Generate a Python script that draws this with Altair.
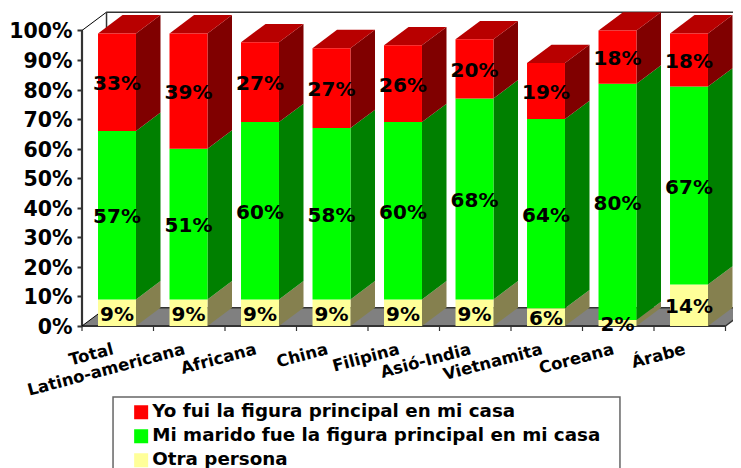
import altair as alt
import pandas as pd

categories = ["Total", "Latino-americana", "Africana", "China", "Filipina",
              "Asió-India", "Vietnamita", "Coreana", "Árabe"]
otra = [9, 9, 9, 9, 9, 9, 6, 2, 14]
marido = [57, 51, 60, 58, 60, 68, 64, 80, 67]
yo = [33, 39, 27, 27, 26, 20, 19, 18, 18]
series_names = ["Yo fui la figura principal en mi casa",
                "Mi marido fue la figura principal en mi casa",
                "Otra persona"]
front = {"otra": "#FFFF99", "marido": "#00FF00", "yo": "#FF0000"}
side = {"otra": "#85804F", "marido": "#008000", "yo": "#800000"}
top_color = "#B80000"
FONT = "DejaVu Sans"
INK = "#333333"

BAR_L, BAR_W = 0.224, 0.531
DX, DY = 0.343, 6.2
XMAX = 651 / 71.5
YMIN, YMAX = -48.05, 107.6
X = alt.Scale(domain=[0, XMAX], nice=False, zero=False)
Y = alt.Scale(domain=[YMIN, YMAX], nice=False, zero=False)

rows_front, rows_poly, rows_text = [], [], []
for i in range(len(categories)):
    l = i + BAR_L
    r = l + BAR_W
    base = 0
    for key, name, v in (("otra", series_names[2], otra[i]),
                         ("marido", series_names[1], marido[i]),
                         ("yo", series_names[0], yo[i])):
        hi = base + v
        rows_front.append(dict(x=l, x2=r, y=base, y2=hi, s=name))
        k = f"{i}{key}"
        rows_poly.append(dict(k=k, x=r, y=base, y2=hi, c=side[key]))
        rows_poly.append(dict(k=k, x=r + DX, y=base + DY, y2=hi + DY, c=side[key]))
        rows_text.append(dict(x=l + BAR_W / 2, y=(base + hi) / 2, t=f"{v}%"))
        base = hi
    k = f"{i}top"
    for px, a, b in ((l, base, base), (l + DX, base, base + DY),
                     (r, base, base + DY), (r + DX, base + DY, base + DY)):
        rows_poly.append(dict(k=k, x=px, y=a, y2=b, c=top_color))

floor = pd.DataFrame([
    dict(k="f", x=0, y=0, y2=0, c="#808080"),
    dict(k="f", x=DX, y=0, y2=DY, c="#808080"),
    dict(k="f", x=9, y=0, y2=DY, c="#808080"),
    dict(k="f", x=9 + DX, y=DY, y2=DY, c="#808080"),
])
polys = pd.DataFrame(rows_poly)
fronts = pd.DataFrame(rows_front)
texts = pd.DataFrame(rows_text)

lines = pd.DataFrame([
    dict(x=0, x2=0, y=0, y2=100, w=2.2, c=INK),
    dict(x=0, x2=9, y=0, y2=0, w=2.2, c=INK),
    dict(x=0, x2=DX, y=100, y2=100 + DY, w=1, c="#000000"),
    dict(x=0, x2=DX, y=0, y2=DY, w=1, c="#000000"),
    dict(x=DX, x2=DX, y=100, y2=100 + DY, w=1.5, c=INK),
    dict(x=DX, x2=XMAX, y=100 + DY, y2=100 + DY, w=1.5, c=INK),
    dict(x=DX, x2=9 + DX, y=DY, y2=DY, w=1.5, c=INK),
    dict(x=9, x2=9 + DX, y=0, y2=DY, w=1.5, c=INK),
] + [dict(x=i, x2=i, y=0, y2=-1.7, w=1.2, c=INK) for i in range(10)])

cat_df = pd.DataFrame(dict(x=[i + 0.435 for i in range(9)], y=[-7.8] * 9, t=categories))
box = pd.DataFrame([dict(x=0.434, x2=7.524, y=-24.0, y2=-60)])

x = alt.X("x:Q", scale=X, axis=None)
y_axis = alt.Y("y:Q", scale=Y, axis=alt.Axis(
    values=list(range(0, 101, 10)), labelExpr="datum.value + '%'", title=None,
    domain=False, grid=False, ticks=True, tickSize=5, tickWidth=2, tickColor=INK,
    labelFont=FONT, labelFontWeight="bold", labelFontSize=20.5, labelColor="#000000",
    labelPadding=5, labelBaseline="middle", labelOverlap=False, labelOffset=1.5))
y_plain = y_axis

floor_layer = alt.Chart(floor).mark_area().encode(
    x=x, y=y_axis, y2="y2:Q", color=alt.Color("c:N", scale=None), detail="k:N")
line_layer = alt.Chart(lines).mark_rule().encode(
    x=x, x2="x2:Q", y=y_plain, y2="y2:Q",
    color=alt.Color("c:N", scale=None), strokeWidth=alt.StrokeWidth("w:Q", scale=None))
poly_layer = alt.Chart(polys).mark_area().encode(
    x=x, y=y_plain, y2="y2:Q", color=alt.Color("c:N", scale=None), detail="k:N")
front_layer = alt.Chart(fronts).mark_rect().encode(
    x=x, x2="x2:Q", y=y_plain, y2="y2:Q",
    fill=alt.Fill("s:N", scale=alt.Scale(domain=series_names,
                                         range=[front["yo"], front["marido"], front["otra"]]),
                  legend=alt.Legend(orient="none", legendX=50, legendY=394, title=None,
                                    padding=0, symbolType="square", symbolSize=196,
                                    symbolStrokeWidth=0, symbolOpacity=1,
                                    labelFont=FONT, labelFontWeight="bold", labelFontSize=18.3,
                                    labelColor="#000000", labelLimit=600, labelOffset=2,
                                    rowPadding=3, clipHeight=20.7)))
text_layer = alt.Chart(texts).mark_text(
    font=FONT, fontWeight="bold", fontSize=20, color="#000000", baseline="middle", align="center", dy=2
).encode(x=x, y=y_plain, text="t:N")
cat_layer = alt.Chart(cat_df).mark_text(
    font=FONT, fontWeight="bold", fontSize=16.5, color="#000000",
    baseline="middle", align="right", angle=345
).encode(x=x, y=y_plain, text="t:N")
box_layer = alt.Chart(box).mark_rect(fill="#FFFFFF", stroke="#666666", strokeWidth=1.5).encode(
    x=x, x2="x2:Q", y=y_plain, y2="y2:Q")

chart = alt.layer(box_layer, floor_layer, line_layer, poly_layer, front_layer, text_layer,
                  cat_layer).properties(
    width=651, height=460,
    autosize=alt.AutoSizeParams(type="none"),
    padding={"left": 74, "top": 0, "right": 0, "bottom": 0},
    background="#FFFFFF",
).configure_view(stroke=None)

chart.save("out.html", embed_options={"renderer": "svg", "actions": False})
